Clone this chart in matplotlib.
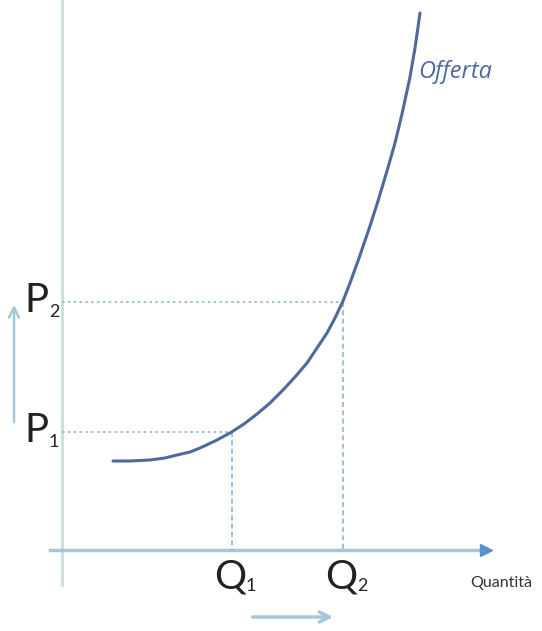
import matplotlib.pyplot as plt
from matplotlib.patches import FancyArrowPatch

# supply curve (x: quantity, y: price, pixel-like units, y grows downward)
curve_q = [113, 130, 150, 165, 177, 190, 200, 215, 230, 244, 257, 270, 283, 295, 307, 317, 327,
           335, 343, 350, 358, 370, 378, 387, 395, 402, 410, 415, 420]
curve_p = [461, 461, 460, 458, 455, 452, 448, 441, 433, 424, 414, 403, 390, 377, 363, 348, 333,
           318, 301, 283, 261, 226, 201, 171, 143, 114, 77, 48, 13]

q_points = [232, 343]
p_points = [432, 302]
q_labels = ["Q", "Q"]
p_labels = ["P", "P"]
subs = ["1", "2"]

axis_x = 62
axis_y = 550

fig = plt.figure(figsize=(5.42, 6.31), dpi=100)
ax = fig.add_axes([0, 0, 1, 1])
ax.set_xlim(0, 542)
ax.set_ylim(631, 0)
ax.axis('off')

# axes of the diagram
ax.plot([axis_x, axis_x], [0, 585], color='#c9dfe3', lw=2)
ax.plot([50, 478], [axis_y, axis_y], color='#a9c6d8', lw=2.5)
ax.plot([486], [axis_y], marker='>', color='#5b8fd0', markersize=9)

# guide lines
for q, p in zip(q_points, p_points):
    ax.plot([axis_x, q], [p, p], color='#8fb6d0', lw=1.2, ls=(0, (1.5, 2)))
    ax.plot([q, q], [p, axis_y], color='#8fb6d0', lw=1.2, ls=(0, (3, 2)))

# supply curve
ax.plot(curve_q, curve_p, color='#51699a', lw=2.2, solid_capstyle='round', solid_joinstyle='round')

font = 'Lato'
for p, lab, s in zip(p_points, p_labels, subs):
    ax.text(48, p - 1, lab, fontsize=29, family=font, color='#222222', ha='right', va='center')
    ax.text(49, p + 10, s, fontsize=13, family=font, color='#222222', ha='left', va='center')
for q, lab, s in zip(q_points, q_labels, subs):
    ax.text(q - 2, 577, lab, fontsize=29, family=font, color='#222222', ha='center', va='center')
    ax.text(q + 14, 586, s, fontsize=13, family=font, color='#222222', ha='left', va='center')

ax.text(501, 583, 'Quantità', fontsize=11.5, family=font, color='#333333', ha='center', va='center')
ax.text(418, 72, 'Offerta', fontsize=17, family='Open Sans', style='italic', color='#51699a',
        ha='left', va='center')

# direction arrows
ax.add_patch(FancyArrowPatch((14, 425), (14, 302), arrowstyle='->', mutation_scale=18,
                             color='#a9c6d8', lw=1.8))
ax.add_patch(FancyArrowPatch((250, 617), (336, 617), arrowstyle='->', mutation_scale=18,
                             color='#a9c6d8', lw=2.5))

fig.savefig('out.png', dpi=100)
